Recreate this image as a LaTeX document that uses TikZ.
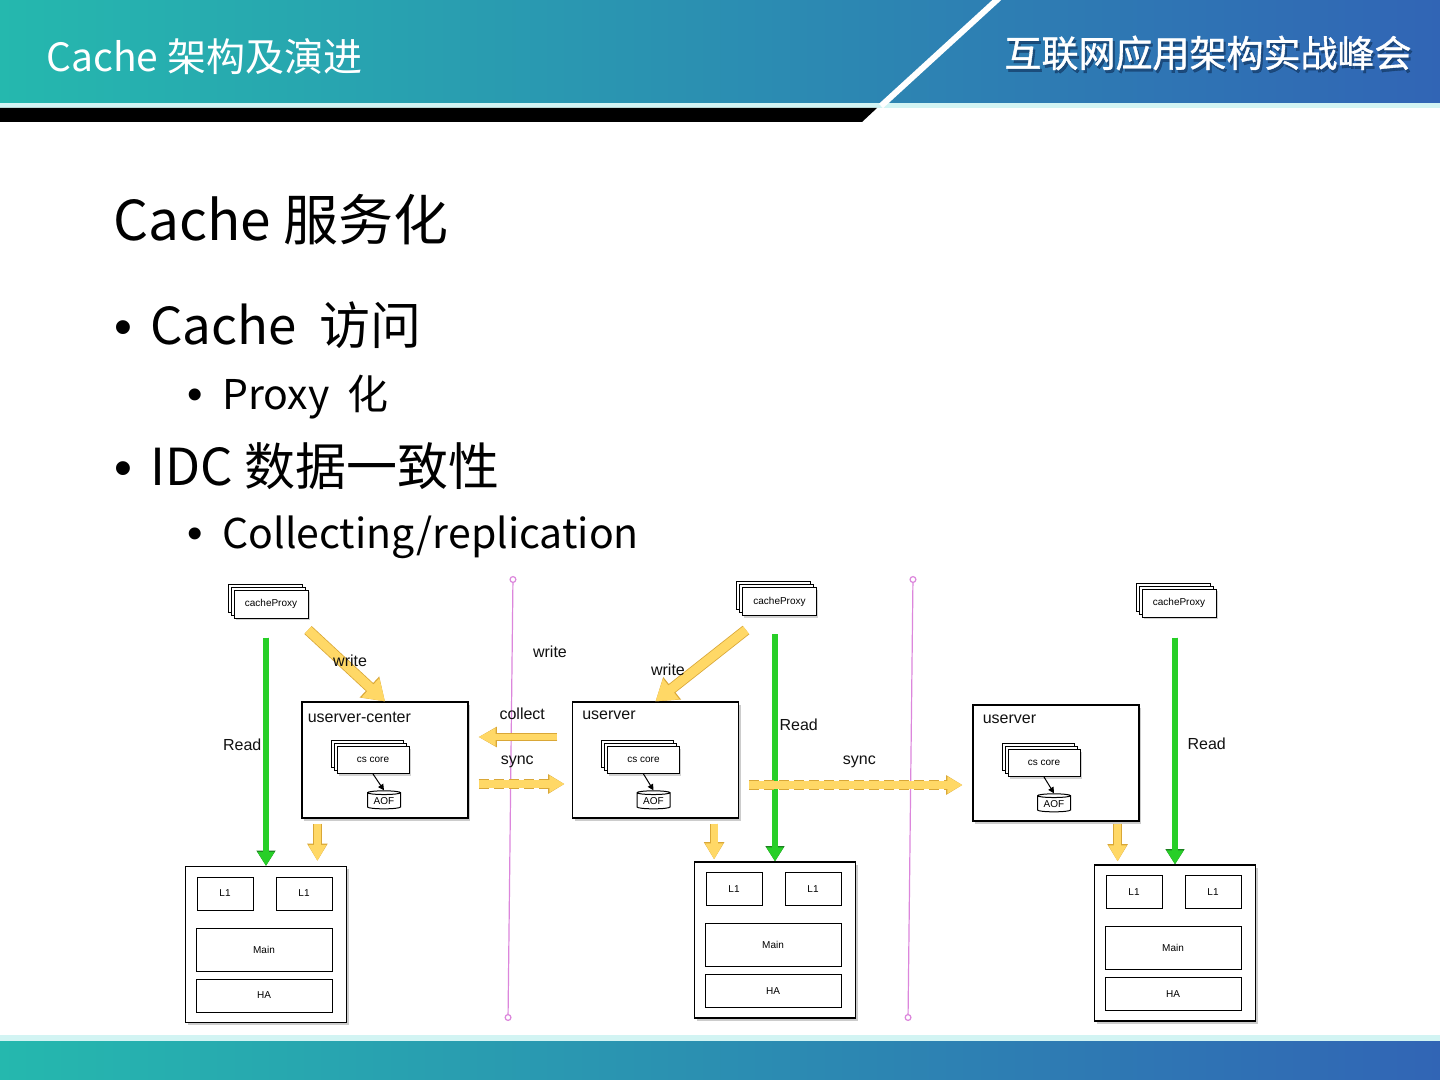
\documentclass[tikz,border=0pt]{standalone}
\usepackage{fontspec}
\setmainfont{Noto Sans CJK SC}
\newfontfamily\diag{Liberation Sans}
\newfontfamily\headfont[FakeBold=1]{Noto Sans CJK SC}
\usetikzlibrary{arrows.meta,positioning,calc,shapes.geometric,shadows}
\definecolor{HeadL}{HTML}{25B8AE}
\definecolor{HeadM}{HTML}{1C9BC4}
\definecolor{HeadR}{HTML}{3165B5}
\definecolor{HeadShade}{HTML}{143A66}
\definecolor{Strip}{HTML}{D2F4F3}
\definecolor{YelFill}{HTML}{FFD866}
\definecolor{YelEdge}{HTML}{D9A737}
\definecolor{ReadFill}{HTML}{27CF27}
\definecolor{ReadEdge}{HTML}{1B7F1F}
\definecolor{Idc}{HTML}{DC86DC}
\definecolor{Ink}{HTML}{111111}
\tikzset{
  frame/.style={draw=black,line width=0.6pt,fill=white,drop shadow={shadow xshift=1pt,shadow yshift=-1.3pt,opacity=0.4}},
  server/.style={frame,minimum width=83pt,minimum height=58pt},
  cachebox/.style={frame,minimum width=80.5pt,minimum height=78pt},
  cell/.style={draw=black,line width=0.5pt,fill=white,minimum height=16.5pt,inner sep=0pt,font=\diag\fontsize{5}{6}\selectfont},
  proxy/.style={draw=black,line width=0.5pt,fill=white,minimum width=37pt,minimum height=14pt,inner sep=0pt,font=\diag\fontsize{5}{6}\selectfont,
    double copy shadow={shadow xshift=-1.5pt,shadow yshift=1.5pt,fill=white,draw=black,line width=0.5pt},
    drop shadow={shadow xshift=0.8pt,shadow yshift=-1pt,opacity=0.35}},
  core/.style={proxy,minimum width=36pt,minimum height=13.5pt},
  aof/.style={cylinder,shape border rotate=90,aspect=0.18,draw=black,line width=0.5pt,fill=white,minimum width=16.5pt,minimum height=9pt,inner sep=0pt,font=\diag\fontsize{5}{6}\selectfont},
  lbl/.style={font=\diag\fontsize{8}{9.6}\selectfont,text=Ink,inner sep=1pt},
  srvlbl/.style={lbl,anchor=north west,inner sep=0pt},
  readarr/.style={draw=ReadFill,line width=2.6pt,-{Triangle[length=7pt,width=8pt]},
    preaction={draw=ReadEdge,line width=3.4pt,-{Triangle[length=7.6pt,width=9pt]}}},
  writearr/.style={draw=YelFill,line width=4.6pt,-{Triangle[length=10pt,width=12.5pt]},
    preaction={draw=YelEdge,line width=5.4pt,-{Triangle[length=10.6pt,width=13.6pt]}}},
  downarr/.style={draw=YelFill,line width=3.4pt,-{Triangle[length=8pt,width=8.5pt]},
    preaction={draw=YelEdge,line width=4.2pt,-{Triangle[length=8.6pt,width=9.6pt]}}},
  collectarr/.style={draw=YelFill,line width=3.4pt,-{Triangle[length=8.5pt,width=8.5pt]},
    preaction={draw=YelEdge,line width=4.2pt,-{Triangle[length=9.1pt,width=9.6pt]}}},
  syncarr/.style={draw=YelFill,line width=3.8pt,-{Triangle[length=7.5pt,width=8pt]},
    preaction={draw=YelEdge,line width=4.8pt,dash pattern=on 5pt off 2.5pt,-{Triangle[length=8.1pt,width=9.2pt]}}},
  ctrl/.style={draw=black,line width=0.5pt,-{Triangle[length=3pt,width=3pt]}},
  idc/.style={draw=Idc,line width=0.6pt,{Circle[length=3.5pt,fill=white]}-{Circle[length=3.5pt,fill=white]}}
}

\begin{document}
\begin{tikzpicture}[x=0.5pt,y=-0.5pt]
  \useasboundingbox (0,0) rectangle (1440,1080);
  \fill[white] (0,0) rectangle (1440,1080);

  % header and footer bands
  \shade[left color=HeadL,middle color=HeadM,right color=HeadR] (0,0) rectangle (1440,103);
  \fill[Strip] (0,103) rectangle (1440,108);
  \fill[black] (0,108) -- (877,108) -- (862,122) -- (0,122) -- cycle;
  \draw[white,line width=3pt] (999,-2) -- (881,106);
  \fill[Strip] (0,1035) rectangle (1440,1041);
  \shade[left color=HeadL,middle color=HeadM,right color=HeadR] (0,1041) rectangle (1440,1080);
  \node[anchor=west,text=white,inner sep=0pt,font=\fontsize{19.5}{22}\selectfont] (htitle) at (46,57) {Cache 架构及演进};
  \node[text=HeadShade,opacity=0.7,inner sep=0pt,font=\headfont\fontsize{18.5}{20}\selectfont] (hshade) at (1210,56) {互联网应用架构实战峰会};
  \node[text=white,inner sep=0pt,font=\headfont\fontsize{18.5}{20}\selectfont] (hconf) at (1208,53) {互联网应用架构实战峰会};

  % slide text
  \node[anchor=base west,inner sep=0pt,font=\fontsize{27.5}{30}\selectfont] (ttl) at (113,241) {Cache 服务化};
  \node[anchor=base west,inner sep=0pt,font=\fontsize{25.5}{28}\selectfont] (it1) at (114,345) {\makebox[18pt][l]{\diag •}Cache~ 访问};
  \node[anchor=base west,inner sep=0pt,font=\fontsize{20.5}{23}\selectfont] (it2) at (187,409) {\makebox[17.5pt][l]{\diag\fontsize{22}{24}\selectfont •}Proxy~ 化};
  \node[anchor=base west,inner sep=0pt,font=\fontsize{25.5}{28}\selectfont] (it3) at (114,485) {\makebox[18pt][l]{\diag •}IDC 数据一致性};
  \node[anchor=base west,inner sep=0pt,font=\fontsize{20.5}{23}\selectfont] (it4) at (187,548) {\makebox[17.5pt][l]{\diag\fontsize{22}{24}\selectfont •}Collecting/replication};

  % idc borders
  \coordinate (d1t) at (513,576);
  \coordinate (d1b) at (508,1021);
  \coordinate (d2t) at (913,576);
  \coordinate (d2b) at (908,1021);
  \draw[idc] (d1t) -- (d1b);
  \draw[idc] (d2t) -- (d2b);

  % center idc
  \node[proxy] (px1) at (271,604) {cacheProxy};
  \node[server] (us1) at (385,760) {};
  \node[srvlbl] (us1l) at ([shift={(6,10)}]us1.north west) {userver-center};
  \node[core] (cs1) at ([shift={(-12,0)}]us1.center) {cs core};
  \node[aof] (aof1) at ([shift={(-1,41)}]us1.center) {AOF};
  \node[cachebox] (ca1) at (266,944.5) {};
  \node[cell,minimum width=28pt] (l1a1) at ([shift={(-41,-51)}]ca1.center) {L1};
  \node[cell,minimum width=28pt] (l1b1) at ([shift={(38,-51)}]ca1.center) {L1};
  \node[cell,minimum width=68pt,minimum height=21.5pt] (mn1) at ([shift={(-2,5)}]ca1.center) {Main};
  \node[cell,minimum width=68pt] (ha1) at ([shift={(-2,51)}]ca1.center) {HA};

  % second idc
  \node[proxy] (px2) at (779.5,601.5) {cacheProxy};
  \node[server] (us2) at (655.5,760) {};
  \node[srvlbl] (us2l) at ([shift={(10,9)}]us2.north west) {userver};
  \node[core] (cs2) at ([shift={(-12,0)}]us2.center) {cs core};
  \node[aof] (aof2) at ([shift={(-2,41)}]us2.center) {AOF};
  \node[cachebox] (ca2) at (775,940) {};
  \node[cell,minimum width=28pt] (l1a2) at ([shift={(-41,-51)}]ca2.center) {L1};
  \node[cell,minimum width=28pt] (l1b2) at ([shift={(38,-51)}]ca2.center) {L1};
  \node[cell,minimum width=68pt,minimum height=21.5pt] (mn2) at ([shift={(-2,5)}]ca2.center) {Main};
  \node[cell,minimum width=68pt] (ha2) at ([shift={(-2,51)}]ca2.center) {HA};

  % third idc
  \node[proxy] (px3) at (1179,603) {cacheProxy};
  \node[server] (us3) at (1056,763) {};
  \node[srvlbl] (us3l) at ([shift={(10,10)}]us3.north west) {userver};
  \node[core] (cs3) at ([shift={(-12,0)}]us3.center) {cs core};
  \node[aof] (aof3) at ([shift={(-2,41)}]us3.center) {AOF};
  \node[cachebox] (ca3) at (1175,943) {};
  \node[cell,minimum width=28pt] (l1a3) at ([shift={(-41,-51)}]ca3.center) {L1};
  \node[cell,minimum width=28pt] (l1b3) at ([shift={(38,-51)}]ca3.center) {L1};
  \node[cell,minimum width=68pt,minimum height=21.5pt] (mn3) at ([shift={(-2,5)}]ca3.center) {Main};
  \node[cell,minimum width=68pt] (ha3) at ([shift={(-2,51)}]ca3.center) {HA};

  \node[lbl] (wmid) at (550,652) {write};

  % read paths
  \draw[readarr,shorten <=9.5pt] (px1.south -| ca1.north) -- node[lbl,left,pos=0.51] (rd1) {Read} (ca1.north);
  \draw[readarr,shorten <=9pt] (px2.south -| ca2.north) -- node[lbl,right,pos=0.445] (rd2) {Read} (ca2.north);
  \draw[readarr,shorten <=10pt] (px3.south -| ca3.north) -- node[lbl,right,pos=0.51,xshift=4pt] (rd3) {Read} (ca3.north);

  % write paths
  \coordinate (w1) at (308,630);
  \coordinate (w2) at (746,630);
  \draw[writearr] (w1) -- node[lbl,xshift=1.8pt,yshift=2.5pt] (wr1) {write} (us1.north);
  \draw[writearr] (w2) -- node[lbl,xshift=-16.4pt,yshift=-2pt] (wr2) {write} (us2.north);

  % collect and sync
  \draw[collectarr,shorten <=7.25pt,shorten >=5pt] ([yshift=11.5pt]us2.west) -- node[lbl,yshift=11.5pt,xshift=1pt] (col) {collect} ([yshift=11.5pt]us1.east);
  \draw[syncarr,shorten <=5pt,shorten >=3.75pt] ([yshift=-12pt]us1.east) -- node[lbl,yshift=11pt,xshift=-1.5pt] (sy1) {sync} ([yshift=-12pt]us2.west);
  \draw[syncarr,shorten <=5pt,shorten >=5pt] ([yshift=-12.5pt]us2.east) -- node[lbl,yshift=11.5pt,xshift=1.8pt] (sy2) {sync} ([yshift=-12.5pt]us2.east -| us3.west);

  % local writes to cache
  \draw[downarr,shorten <=2.5pt,shorten >=2.5pt] ([xshift=8pt]us1.south west) -- ([xshift=8pt]us1.south west |- ca1.north);
  \draw[downarr,shorten <=2.5pt,shorten >=1pt] ([xshift=-12.5pt]us2.south east) -- ([xshift=-12.5pt]us2.south east |- ca2.north);
  \draw[downarr,shorten <=1pt,shorten >=1.5pt] ([xshift=-11pt]us3.south east) -- ([xshift=-11pt]us3.south east |- ca3.north);

  % core to aof
  \draw[ctrl] (cs1.south) -- (aof1.north);
  \draw[ctrl] (cs2.south) -- (aof2.north);
  \draw[ctrl] (cs3.south) -- (aof3.north);
\end{tikzpicture}
\end{document}
